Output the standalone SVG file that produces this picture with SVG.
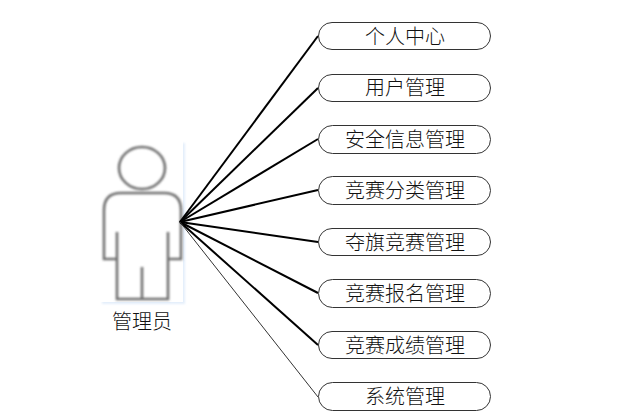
<svg xmlns="http://www.w3.org/2000/svg" width="640" height="419" viewBox="0 0 640 419">
<defs>
<style>
.b{fill:#fff;stroke:#333;stroke-width:1}
.t{font-family:"Noto Sans CJK SC",serif;font-size:20px;font-weight:300;fill:#111;text-anchor:middle}
.l{stroke:#000;stroke-width:2;fill:none}
.f{fill:none;stroke:#707070;stroke-width:2.6}
</style>
<filter id="soft" x="-10%" y="-10%" width="120%" height="120%"><feGaussianBlur stdDeviation="0.8"/></filter>
<filter id="shadow" x="-10%" y="-10%" width="120%" height="120%"><feGaussianBlur stdDeviation="1.2"/></filter>
</defs>
<rect width="640" height="419" fill="#fff"/>
<g id="actor">
<rect x="102" y="143" width="83" height="161" fill="#e3eefb" filter="url(#shadow)"/>
<rect x="100" y="140" width="83" height="162" fill="#fff"/>
<g filter="url(#soft)">
<ellipse class="f" cx="142" cy="168" rx="23" ry="21"/>
<path class="f" d="M117 259H104V210Q104 193 121 193H164Q181 193 181 210V259H168M117 232V299H168V232M142 267V299"/>
</g>
<text class="t" x="142" y="329">管理员</text>
</g>
<g id="connectors">
<path class="l" d="M180 222L318 36"/>
<path class="l" d="M180 222L318 88"/>
<path class="l" d="M180 222L318 139"/>
<path class="l" d="M180 222L318 190"/>
<path class="l" d="M180 222L318 242"/>
<path class="l" d="M180 222L318 293"/>
<path class="l" d="M180 222L318 345"/>
<path d="M180 222L318 397" fill="none" stroke="#333" stroke-width="1"/>
</g>
<g id="n1"><rect class="b" x="318.500" y="22.500" width="172" height="27" rx="13.500"/><text class="t" x="405" y="44">个人中心</text></g>
<g id="n2"><rect class="b" x="318.500" y="74.500" width="172" height="27" rx="13.500"/><text class="t" x="405" y="95">用户管理</text></g>
<g id="n3"><rect class="b" x="318.500" y="125.500" width="172" height="28" rx="14"/><text class="t" x="405" y="147">安全信息管理</text></g>
<g id="n4"><rect class="b" x="318.500" y="176.500" width="172" height="28" rx="14"/><text class="t" x="405" y="198">竞赛分类管理</text></g>
<g id="n5"><rect class="b" x="318.500" y="228.500" width="172" height="27" rx="13.500"/><text class="t" x="405" y="250">夺旗竞赛管理</text></g>
<g id="n6"><rect class="b" x="318.500" y="279.500" width="172" height="28" rx="14"/><text class="t" x="405" y="301">竞赛报名管理</text></g>
<g id="n7"><rect class="b" x="318.500" y="331.500" width="172" height="27" rx="13.500"/><text class="t" x="405" y="353">竞赛成绩管理</text></g>
<g id="n8"><rect class="b" x="318.500" y="382.500" width="172" height="28" rx="14"/><text class="t" x="405" y="404">系统管理</text></g>
</svg>
